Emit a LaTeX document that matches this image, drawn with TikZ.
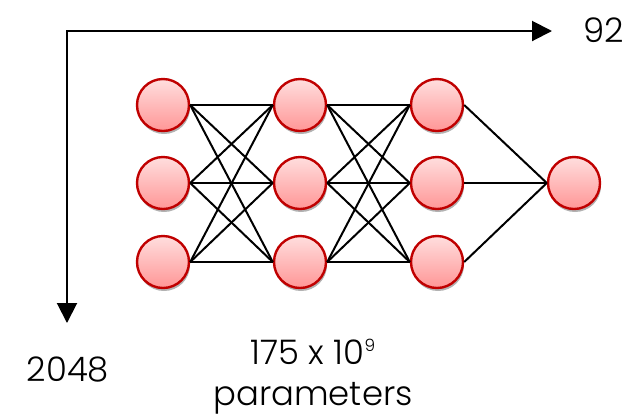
\documentclass[tikz,border=0pt]{standalone}
\usepackage{fontspec}
\setmainfont{Poppins}[UprightFont=* Light]
\usetikzlibrary{arrows.meta,shadows}
\definecolor{nodeborder}{RGB}{192,0,0}
\definecolor{nodetop}{RGB}{255,222,222}
\definecolor{nodebottom}{RGB}{255,150,150}
\newcommand{\smallpower}[1]{\raisebox{13bp}{\fontsize{17}{20}\selectfont #1}}
\tikzset{
  neuron/.style={circle, minimum size=52bp, inner sep=0pt, draw=nodeborder,
    line width=2.4bp, top color=nodetop, bottom color=nodebottom,
    drop shadow={shadow xshift=1bp, shadow yshift=-3bp, opacity=0.3, fill=black}},
  link/.style={line width=2bp, black},
  axisline/.style={line width=2bp, {Triangle[length=20bp,width=20bp]}-{Triangle[length=20bp,width=20bp]}},
  label/.style={font=\fontsize{34}{40}\selectfont, inner sep=0pt}
}
\begin{document}
\begin{tikzpicture}[x=1bp, y=-1bp]
  \useasboundingbox (0,0) rectangle (635,417);
  % layers of the network
  \foreach \c/\x in {1/163, 2/300, 3/437} {
    \foreach \r/\y in {1/105, 2/183, 3/262} {
      \node[neuron] (n\c\r) at (\x,\y) {};
    }
  }
  \node[neuron] (out) at (574,183) {};
  % full connections between consecutive layers
  \foreach \a/\b in {1/2, 2/3} {
    \foreach \i in {1,2,3} {
      \foreach \j in {1,2,3} {
        \draw[link] (n\a\i.east) -- (n\b\j.west);
      }
    }
  }
  \foreach \i in {1,2,3} {
    \draw[link] (n3\i.east) -- (out.west);
  }
  % dimension axes
  \coordinate (vtip) at (67,323);
  \coordinate (htip) at (552,31);
  \draw[axisline] (vtip) |- (htip);
  \node[label, anchor=west] (wdim) at (583,30) {92};
  \node[label] (hdim) at (68,369) {2048};
  \node[label] (count) at (313,352) {175 x 10\smallpower{9}};
  \node[label] (unit) at (313,398) {parameters};
\end{tikzpicture}
\end{document}
